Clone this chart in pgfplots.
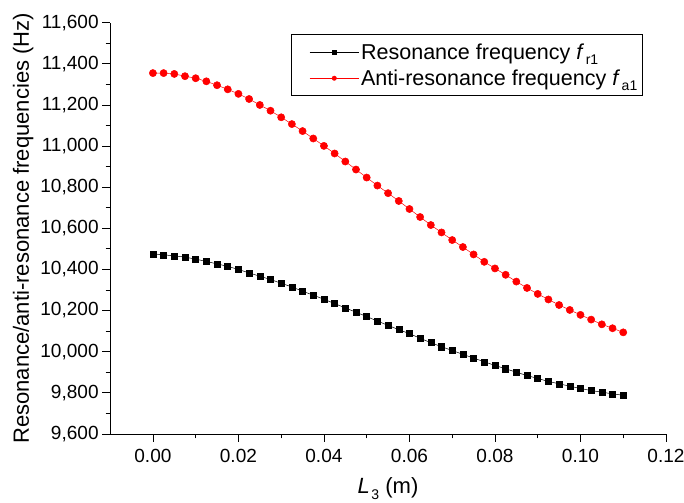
\documentclass[border=0pt]{standalone}
\usepackage{fontspec}
\setmainfont{Liberation Sans}
\usepackage{pgfplots}
\pgfplotsset{compat=1.18}

\newcommand{\sub}[1]{\kern1.5pt\raisebox{-0.5ex}{\fontsize{14}{14}\selectfont #1}}

\begin{document}
\begin{tikzpicture}
\begin{axis}[
  name=ax,
  scale only axis,
  width=555pt, height=410.6pt,
  xmin=-0.01, xmax=0.12,
  ymin=9600, ymax=11600,
  axis x line*=bottom, axis y line*=left,
  xtick={0,0.02,0.04,0.06,0.08,0.10,0.12},
  ytick={9600,9800,10000,10200,10400,10600,10800,11000,11200,11400,11600},
  scaled y ticks=false, scaled x ticks=false,
  minor x tick num=1, minor y tick num=1,
  tick align=outside,
  major tick length=8pt, minor tick length=4.5pt,
  every tick/.style={black, line width=0.8pt},
  axis line style={line width=0.8pt},
  /pgf/number format/assume math mode=true,
  xticklabel style={yshift=-4pt, /pgf/number format/fixed, /pgf/number format/fixed zerofill, /pgf/number format/precision=2},
  yticklabel style={/pgf/number format/fixed, /pgf/number format/1000 sep={,}},
  tick label style={font=\fontsize{19}{21}\selectfont},
  label style={font=\fontsize{22}{24}\selectfont},
  xlabel style={yshift=-8pt},
  xlabel={\textit{L}\sub{3} (m)},
  ylabel={Resonance/anti-resonance frequencies (Hz)},
  legend style={at={(0.958,0.972)}, anchor=north east, draw=black, line width=0.6pt,
    fill=white, font=\fontsize{21.5}{23}\selectfont, row sep=5pt, inner xsep=3pt, inner ysep=7pt},
  legend cell align=left,
  legend image code/.code={\path (-15pt,0pt); \draw[mark repeat=2,mark phase=2] plot coordinates {(0pt,0pt)(24.5pt,0pt)(49pt,0pt)};},
  legend image post style={mark size=2.2pt},
]
%% resonance f_r1
\addplot[black, line width=0.5pt, mark=square*, mark size=3pt, mark options={solid}] coordinates {
  (0.0000,10476) (0.0025,10471) (0.0050,10466) (0.0075,10460) (0.0100,10450)
  (0.0125,10439) (0.0150,10427) (0.0175,10415) (0.0200,10400) (0.0225,10383)
  (0.0250,10367) (0.0275,10351) (0.0300,10333) (0.0325,10315) (0.0350,10294)
  (0.0375,10275) (0.0400,10255) (0.0425,10234) (0.0450,10213) (0.0475,10192)
  (0.0500,10171) (0.0525,10149) (0.0550,10128) (0.0575,10107) (0.0600,10088)
  (0.0625,10065) (0.0650,10044) (0.0675,10024) (0.0700,10006) (0.0725,9987)
  (0.0750,9969) (0.0775,9951) (0.0800,9933) (0.0825,9917) (0.0850,9900)
  (0.0875,9884) (0.0900,9870) (0.0925,9855) (0.0950,9844) (0.0975,9832)
  (0.1000,9821) (0.1025,9811) (0.1050,9803) (0.1075,9795) (0.1100,9788)
};
\addlegendentry{Resonance frequency \textit{f}\sub{r1}}
%% anti-resonance f_a1
\addplot[red, line width=0.5pt, mark=*, mark size=3.6pt, mark options={solid}] coordinates {
  (0.0000,11355) (0.0025,11355) (0.0050,11351) (0.0075,11340) (0.0100,11330)
  (0.0125,11315) (0.0150,11296) (0.0175,11276) (0.0200,11254) (0.0225,11229)
  (0.0250,11200) (0.0275,11172) (0.0300,11140) (0.0325,11107) (0.0350,11073)
  (0.0375,11037) (0.0400,11001) (0.0425,10964) (0.0450,10925) (0.0475,10886)
  (0.0500,10847) (0.0525,10808) (0.0550,10771) (0.0575,10733) (0.0600,10694)
  (0.0625,10655) (0.0650,10616) (0.0675,10580) (0.0700,10543) (0.0725,10509)
  (0.0750,10473) (0.0775,10437) (0.0800,10405) (0.0825,10374) (0.0850,10341)
  (0.0875,10310) (0.0900,10281) (0.0925,10254) (0.0950,10227) (0.0975,10203)
  (0.1000,10179) (0.1025,10156) (0.1050,10133) (0.1075,10114) (0.1100,10094)
};
\addlegendentry{Anti-resonance frequency \textit{f}\sub{a1}}
\end{axis}
\pgfresetboundingbox
\path ([xshift=-110pt,yshift=-68.7pt]ax.south west) rectangle ([xshift=18pt,yshift=22.7pt]ax.north east);
\end{tikzpicture}
\end{document}
